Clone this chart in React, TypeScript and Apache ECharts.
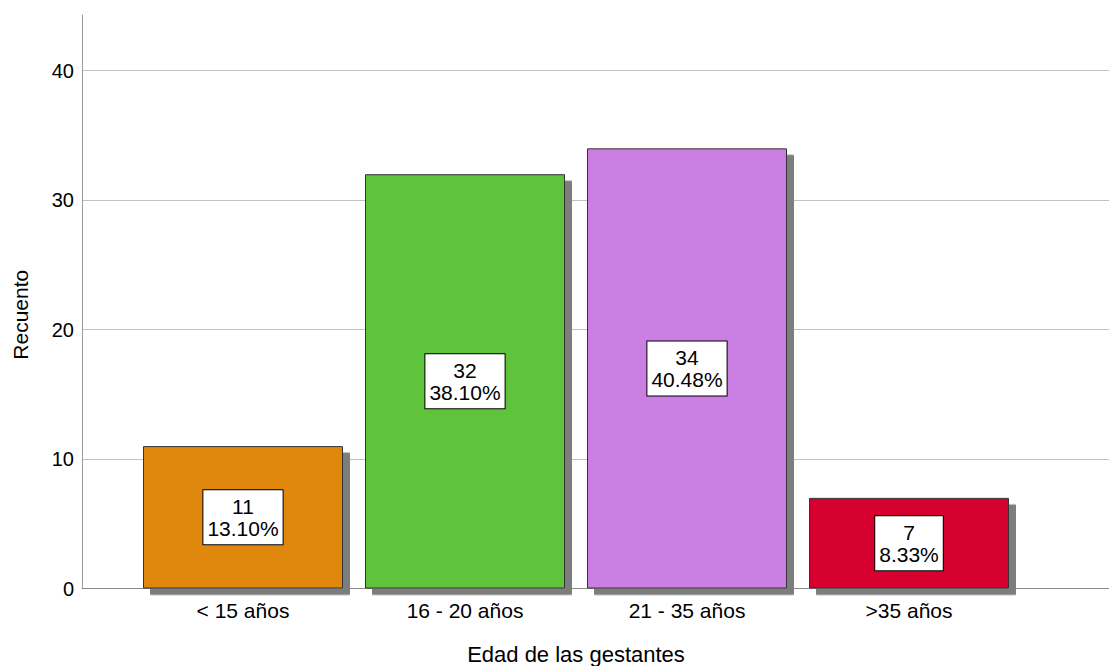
import React, { useEffect, useRef } from "react";
import * as echarts from "echarts";

const categories = ["< 15 años", "16 - 20 años", "21 - 35 años", ">35 años"];
const counts = [11, 32, 34, 7];
const percents = ["13.10%", "38.10%", "40.48%", "8.33%"];
const barColors = ["#E0880F", "#5EC33A", "#CB7FE3", "#D6002E"];
const yTicks = [0, 10, 20, 30, 40];

const FONT = "Liberation Sans";

export default function App() {
  const ref = useRef<HTMLDivElement>(null);
  useEffect(() => {
    document.body.style.margin = "0";
    const chart = echarts.init(ref.current!, null, { renderer: "svg" });
    const yMax = 44.3;
    const gridTop = 15;
    const gridHeight = 573.5;
    chart.setOption({
      animation: false,
      backgroundColor: "#ffffff",
      textStyle: { fontFamily: FONT },
      grid: [
        { left: 82, right: 0, top: gridTop, height: gridHeight, outerBoundsMode: "none", containLabel: false },
        { left: 132, width: 888, top: gridTop, height: gridHeight, outerBoundsMode: "none", containLabel: false },
      ],
      xAxis: [
        {
          gridIndex: 0,
          type: "value",
          min: 0,
          max: 1,
          axisLabel: { show: false },
          axisTick: { show: false },
          splitLine: { show: false },
          axisLine: { show: true, lineStyle: { color: "#8a8a8a", width: 1 } },
        },
        {
          gridIndex: 1,
          type: "category",
          data: categories,
          axisLine: { show: false },
          axisTick: { show: false },
          axisLabel: { fontSize: 21, color: "#000", margin: 11, fontFamily: FONT },
          name: "Edad de las gestantes",
          nameLocation: "middle",
          nameGap: 55,
          nameTextStyle: { fontSize: 22, color: "#000", fontFamily: FONT },
        },
      ],
      yAxis: [
        {
          gridIndex: 0,
          type: "value",
          min: 0,
          max: yMax,
          interval: 10,
          axisLine: { show: true, lineStyle: { color: "#9a9a9a", width: 1 } },
          axisTick: { show: false },
          axisLabel: {
            fontSize: 20,
            color: "#000",
            margin: 8,
            fontFamily: FONT,
            padding: [9, 0, 0, 0],
            formatter: (v: number) => (yTicks.includes(v) ? String(v) : ""),
          },
          splitLine: {
            show: true,
            lineStyle: {
              color: ["#c2c2c2", "#c2c2c2", "#c2c2c2", "#c2c2c2", "#c2c2c2", "rgba(0,0,0,0)"],
              width: 1,
            },
          },
          name: "Recuento",
          nameLocation: "middle",
          nameRotate: 90,
          nameGap: 51,
          nameTextStyle: { fontSize: 21, color: "#000", fontFamily: FONT, padding: [0, 26, 0, 0] },
        },
        {
          gridIndex: 1,
          type: "value",
          min: 0,
          max: yMax,
          show: false,
        },
      ],
      series: [
        {
          type: "bar",
          xAxisIndex: 1,
          yAxisIndex: 1,
          barWidth: 200,
          data: counts.map((v, i) => ({
            value: v,
            itemStyle: { color: barColors[i] },
          })),
          itemStyle: {
            borderColor: "#333333",
            borderWidth: 1,
            shadowColor: "#7d7d7d",
            shadowOffsetX: 7,
            shadowOffsetY: 6.5,
            shadowBlur: 0,
          },
          label: {
            show: true,
            position: "inside",
            formatter: (p: any) => `${counts[p.dataIndex]}\n${percents[p.dataIndex]}`,
            fontSize: 21,
            lineHeight: 22,
            color: "#000",
            fontFamily: FONT,
            backgroundColor: "#ffffff",
            borderColor: "#000000",
            borderWidth: 1,
            padding: [6, 4, 4, 4],
            align: "center",
          },
        },
      ],
    });
    return () => chart.dispose();
  }, []);
  return <div ref={ref} style={{ width: 1109, height: 666 }} />;
}
